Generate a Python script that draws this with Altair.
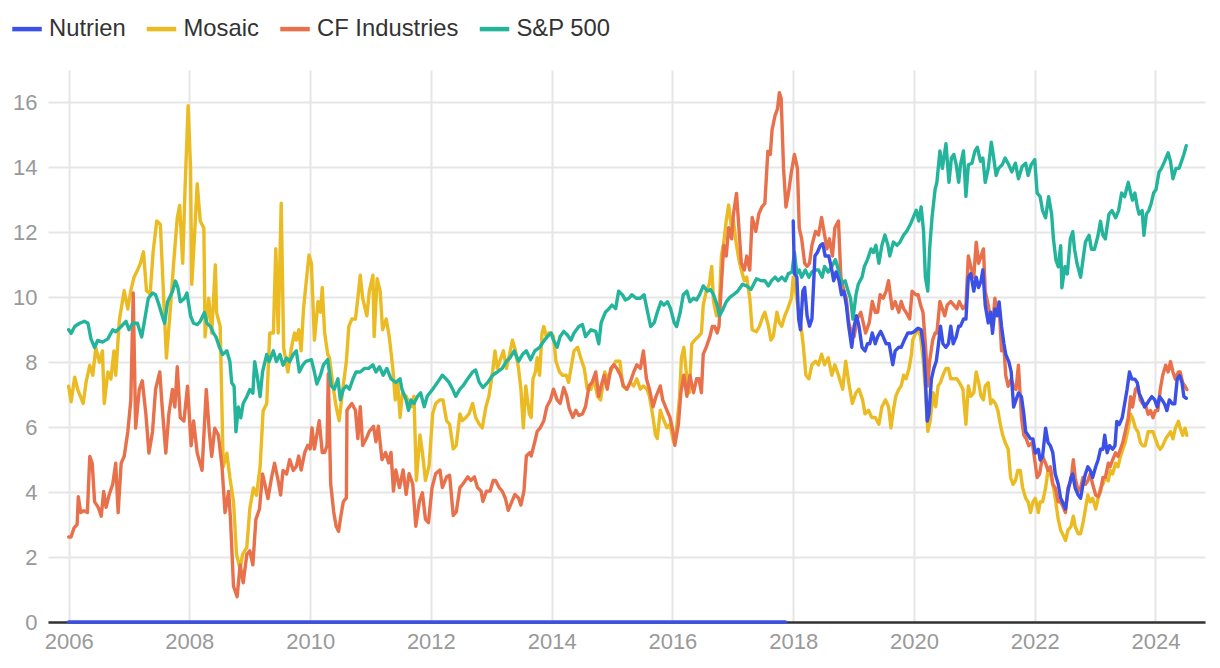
import altair as alt
import pandas as pd
import numpy as np

series_names = ["Nutrien", "Mosaic", "CF Industries", "S&P 500"]
series_colors = ["#3b50e6", "#ebbb23", "#e8704b", "#23b49b"]

# decimal-year positions and values
mosaic_t = [2006.00, 2006.04, 2006.10, 2006.15, 2006.24, 2006.29, 2006.35, 2006.40, 2006.45, 2006.51, 2006.56, 2006.59, 2006.65, 2006.70, 2006.75, 2006.78, 2006.84, 2006.92, 2006.98,
            2007.03, 2007.08, 2007.14, 2007.19, 2007.24, 2007.29, 2007.35, 2007.40, 2007.46, 2007.52, 2007.58, 2007.62, 2007.69, 2007.74, 2007.80, 2007.84, 2007.89, 2007.93, 2007.98,
            2008.02, 2008.04, 2008.08, 2008.13, 2008.18, 2008.24, 2008.26, 2008.32, 2008.37, 2008.43, 2008.45, 2008.51, 2008.56, 2008.62, 2008.67, 2008.73, 2008.78, 2008.84, 2008.88, 2008.95,
            2009.00, 2009.06, 2009.11, 2009.17, 2009.22, 2009.28, 2009.33, 2009.39, 2009.43, 2009.47, 2009.52, 2009.56, 2009.63, 2009.69, 2009.74,
            2009.77, 2009.81, 2009.85, 2009.89, 2009.93, 2009.98, 2010.02, 2010.07, 2010.13, 2010.17, 2010.20, 2010.24, 2010.29, 2010.32, 2010.37, 2010.43, 2010.48, 2010.54, 2010.60, 2010.64, 2010.69, 2010.75, 2010.79, 2010.83, 2010.87, 2010.94, 2010.98,
            2011.04, 2011.06, 2011.11, 2011.16, 2011.20, 2011.26, 2011.31, 2011.37, 2011.41, 2011.45, 2011.49, 2011.53, 2011.59, 2011.67, 2011.72, 2011.76, 2011.82, 2011.86, 2011.91, 2011.97,
            2012.03, 2012.08, 2012.15, 2012.20, 2012.26, 2012.31, 2012.37, 2012.42, 2012.48, 2012.52, 2012.58, 2012.63, 2012.69, 2012.74, 2012.80, 2012.85, 2012.91, 2012.96,
            2013.02, 2013.06, 2013.10, 2013.14, 2013.20, 2013.25, 2013.29, 2013.35, 2013.40, 2013.45, 2013.49, 2013.53, 2013.57, 2013.63,
            2013.66, 2013.69, 2013.73, 2013.76, 2013.80, 2013.84, 2013.87, 2013.91, 2013.95, 2013.99, 2014.03, 2014.07, 2014.13, 2014.18, 2014.24, 2014.28, 2014.33, 2014.37, 2014.43, 2014.48, 2014.54, 2014.59, 2014.65, 2014.70, 2014.76, 2014.81, 2014.88, 2014.93,
            2015.00, 2015.06, 2015.13, 2015.18, 2015.24, 2015.30, 2015.36, 2015.41, 2015.47, 2015.52, 2015.58, 2015.62, 2015.68, 2015.72, 2015.75, 2015.80, 2015.84, 2015.91, 2015.96,
            2016.02, 2016.06, 2016.12, 2016.15, 2016.19, 2016.24, 2016.28, 2016.32, 2016.37, 2016.43, 2016.48, 2016.51, 2016.56, 2016.61, 2016.65, 2016.68, 2016.73, 2016.77, 2016.81, 2016.85, 2016.89, 2016.93, 2016.98,
            2017.01, 2017.06, 2017.10, 2017.14, 2017.19, 2017.23, 2017.28, 2017.32, 2017.39, 2017.44, 2017.50,
            2017.53, 2017.59, 2017.63, 2017.67, 2017.73, 2017.77, 2017.81, 2017.86, 2017.91, 2017.97, 2018.00, 2018.04, 2018.09, 2018.13, 2018.17, 2018.21, 2018.26, 2018.31, 2018.37, 2018.42, 2018.47, 2018.52, 2018.58, 2018.64, 2018.69, 2018.75, 2018.82, 2018.87, 2018.92, 2018.98,
            2019.04, 2019.09, 2019.15, 2019.19, 2019.25, 2019.30, 2019.36, 2019.42, 2019.47, 2019.53, 2019.58, 2019.62, 2019.66, 2019.70, 2019.75, 2019.79, 2019.83, 2019.87, 2019.92, 2019.96, 2019.98,
            2020.03, 2020.07, 2020.11, 2020.15, 2020.19, 2020.23, 2020.27, 2020.32, 2020.36, 2020.40, 2020.44, 2020.48, 2020.53, 2020.57, 2020.61, 2020.66, 2020.71, 2020.75, 2020.81, 2020.86, 2020.90, 2020.94, 2020.99,
            2021.03, 2021.07, 2021.11, 2021.15,
            2021.18, 2021.23, 2021.27, 2021.30, 2021.35, 2021.39, 2021.43, 2021.47, 2021.51, 2021.56, 2021.60, 2021.64, 2021.68, 2021.72, 2021.76, 2021.80, 2021.85, 2021.89, 2021.93, 2021.97,
            2022.01, 2022.06, 2022.09, 2022.13, 2022.18, 2022.22, 2022.26, 2022.30, 2022.34, 2022.39, 2022.43, 2022.46, 2022.51, 2022.55, 2022.60, 2022.64, 2022.67, 2022.72, 2022.76, 2022.80, 2022.84, 2022.88, 2022.92, 2022.96,
            2023.01, 2023.05, 2023.09, 2023.13, 2023.17, 2023.22, 2023.25, 2023.29, 2023.34, 2023.38, 2023.42, 2023.46, 2023.50, 2023.55, 2023.59, 2023.62, 2023.67, 2023.71, 2023.75, 2023.79, 2023.83, 2023.88, 2023.92, 2023.96,
            2024.00, 2024.04, 2024.08, 2024.12, 2024.17, 2024.21, 2024.25, 2024.29, 2024.33, 2024.38, 2024.41, 2024.45, 2024.49, 2024.52]
mosaic_v = [7.26, 6.78, 7.54, 7.16, 6.73, 7.4, 7.9, 7.6, 8.45, 8.0, 8.35, 6.73, 7.7, 7.48, 8.35, 7.6, 9.3, 10.2, 9.64,
            10.2, 10.6, 10.83, 11.05, 11.4, 10.2, 10.1, 11.4, 12.35, 12.24, 9.75, 8.13, 9.75, 11.05, 12.45, 12.83, 11.05, 13.4, 15.9,
            13.97, 10.4, 11.7, 13.5, 12.35, 12.13, 8.78, 9.97, 8.9, 11.0, 9.53, 9.1, 4.78, 5.2, 4.45, 3.7, 2.08, 1.64, 2.08, 2.3,
            3.5, 4.13, 3.9, 4.78, 6.5, 6.73, 8.9, 8.9, 11.5, 8.9, 12.9, 8.45, 7.7, 8.45, 8.9,
            8.68, 9.0, 8.35, 9.65, 10.4, 11.3, 11.05, 8.68, 9.87, 9.54, 10.3, 8.9, 8.25, 8.14, 7.38, 6.63, 6.2, 7.17, 8.03, 9.1, 9.33, 9.33, 9.97, 10.68, 9.97, 9.43, 10.19,
            10.68, 8.79, 10.57, 10.19, 9.0, 9.33, 8.79, 7.81, 6.84, 7.38, 6.3, 7.06, 6.95, 6.63, 6.95, 4.36, 5.76, 5.22, 4.36, 4.8,
            6.41, 6.73, 6.84, 6.84, 6.2, 6.09, 5.33, 5.44, 6.41, 6.2, 6.3, 6.41, 6.73, 6.3, 6.09, 5.98, 6.63, 6.95,
            7.7, 8.35, 7.81, 8.03, 8.35, 7.81, 8.14, 8.68, 8.35, 7.81, 7.17, 5.98, 7.27, 6.41,
            6.3, 7.49, 7.7, 8.14, 7.6, 8.9, 9.1, 8.79, 8.9, 8.9, 8.79, 8.03, 7.7, 7.6, 7.6, 7.38, 7.92, 8.35, 8.46, 8.14, 7.81, 7.17, 7.17, 7.49, 6.95, 6.84, 7.7, 7.49,
            7.81, 8.03, 8.03, 7.27, 7.17, 7.38, 7.27, 7.49, 7.17, 7.27, 7.17, 6.95, 6.3, 5.76, 5.65, 6.52, 6.3, 5.98, 6.09,
            5.55, 5.76, 6.95, 8.14, 8.46, 7.49, 7.06, 8.57, 8.68, 8.79, 8.9, 9.76, 10.19, 10.4, 10.95, 9.87, 9.43, 9.54, 11.27, 11.7, 12.35, 12.84, 12.1,
            12.35, 11.6, 11.16, 10.84, 10.51, 10.62, 9.97, 9.0, 8.94, 9.1, 9.43,
            9.54, 9.11, 8.68, 8.79, 9.54, 9.22, 9.11, 9.43, 9.65, 9.97, 10.62, 10.19, 9.54, 9.11, 8.46, 7.6, 7.49, 7.92, 8.03, 7.92, 8.25, 7.92, 8.14, 7.6, 7.92, 7.6, 7.17, 8.03, 7.38, 6.73,
            7.06, 7.17, 6.84, 6.41, 6.52, 6.3, 6.3, 6.09, 6.63, 6.84, 6.63, 5.98, 6.52, 6.95, 7.17, 7.27, 7.6, 7.49, 7.81, 8.25, 8.68,
            8.9, 9.0, 8.79, 8.14, 7.17, 5.87, 6.2, 7.06, 6.63, 7.27, 7.38, 7.6, 7.81, 7.81, 7.49, 7.49, 7.49, 7.38, 7.17, 6.09, 7.27, 6.95, 7.06,
            7.7, 7.38, 6.95, 6.84,
            7.27, 7.37, 6.72, 6.84, 6.72, 6.51, 6.08, 5.75, 5.53, 5.32, 4.45, 4.24, 4.35, 4.67, 4.67, 4.13, 3.81, 3.7, 3.37, 3.7,
            3.81, 3.37, 3.7, 3.7, 4.13, 4.67, 4.56, 4.24, 3.81, 3.16, 2.83, 2.72, 2.51, 2.83, 2.94, 3.26, 2.94, 2.72, 2.72, 3.05, 3.48, 3.91, 3.7, 3.81,
            3.48, 3.81, 4.13, 4.24, 4.45, 4.35, 4.67, 4.56, 4.89, 4.78, 5.1, 5.32, 5.53, 5.97, 6.4, 6.29, 5.97, 5.86, 5.53, 5.43, 5.43, 5.86, 5.86, 5.86,
            5.64, 5.43, 5.32, 5.43, 5.64, 5.75, 5.86, 5.64, 5.97, 6.18, 5.97, 5.75, 5.97, 5.75]

cf_t = [2006.00, 2006.04, 2006.09, 2006.14, 2006.16, 2006.20, 2006.25, 2006.31, 2006.35, 2006.39, 2006.43, 2006.49, 2006.54, 2006.58, 2006.62, 2006.67, 2006.73, 2006.78, 2006.82, 2006.87, 2006.92, 2006.98,
        2007.03, 2007.07, 2007.11, 2007.17, 2007.22, 2007.28, 2007.33, 2007.39, 2007.44, 2007.51, 2007.55, 2007.61, 2007.66, 2007.72, 2007.76, 2007.80, 2007.85, 2007.91, 2007.97,
        2008.03, 2008.07, 2008.13, 2008.21, 2008.28, 2008.33, 2008.37, 2008.42, 2008.48, 2008.54, 2008.59, 2008.65, 2008.68, 2008.73, 2008.79, 2008.84, 2008.89, 2008.95,
        2009.00, 2009.05, 2009.10, 2009.16, 2009.21, 2009.25, 2009.30, 2009.36, 2009.41, 2009.47, 2009.51, 2009.55, 2009.61, 2009.66, 2009.72,
        2009.77, 2009.81, 2009.85, 2009.91, 2009.96, 2010.00, 2010.03, 2010.07, 2010.11, 2010.15, 2010.20, 2010.24, 2010.28, 2010.30, 2010.34, 2010.39, 2010.43, 2010.47, 2010.51, 2010.55, 2010.60, 2010.61, 2010.65, 2010.69, 2010.75, 2010.79, 2010.83, 2010.87, 2010.93, 2010.98,
        2011.05, 2011.09, 2011.13, 2011.19, 2011.25, 2011.30, 2011.34, 2011.38, 2011.42, 2011.48, 2011.54, 2011.59, 2011.64, 2011.70, 2011.75, 2011.81, 2011.86, 2011.91, 2011.96,
        2012.02, 2012.08, 2012.15, 2012.19, 2012.26, 2012.31, 2012.37, 2012.42, 2012.48, 2012.53, 2012.61, 2012.66, 2012.72, 2012.77, 2012.83, 2012.86, 2012.92, 2012.98,
        2013.03, 2013.07, 2013.13, 2013.18, 2013.23, 2013.28, 2013.34, 2013.39, 2013.45, 2013.49, 2013.54, 2013.58, 2013.64,
        2013.66, 2013.72, 2013.76, 2013.81, 2013.87, 2013.92, 2013.98, 2014.03, 2014.09, 2014.14, 2014.20, 2014.25, 2014.29, 2014.35, 2014.40, 2014.45, 2014.51, 2014.56, 2014.62, 2014.67, 2014.73, 2014.78, 2014.82, 2014.87, 2014.92, 2014.98,
        2015.03, 2015.08, 2015.14, 2015.19, 2015.25, 2015.30, 2015.36, 2015.41, 2015.47, 2015.52, 2015.57, 2015.62, 2015.68, 2015.73, 2015.80, 2015.84, 2015.91, 2015.96,
        2016.01, 2016.04, 2016.10, 2016.14, 2016.19, 2016.24, 2016.29, 2016.35, 2016.40, 2016.44, 2016.48, 2016.51, 2016.56, 2016.62, 2016.66, 2016.70, 2016.74, 2016.77, 2016.81, 2016.85, 2016.89, 2016.93, 2016.98,
        2017.01, 2017.06, 2017.10, 2017.14, 2017.19, 2017.23, 2017.28, 2017.32, 2017.38, 2017.43, 2017.48,
        2017.53, 2017.58, 2017.62, 2017.65, 2017.70, 2017.74, 2017.77, 2017.80, 2017.84, 2017.88, 2017.92, 2017.97, 2018.02, 2018.07, 2018.10, 2018.14, 2018.19, 2018.23, 2018.27, 2018.31, 2018.37, 2018.42, 2018.47, 2018.52, 2018.56, 2018.60, 2018.65, 2018.69, 2018.75, 2018.79, 2018.84, 2018.88, 2018.92, 2018.97,
        2019.01, 2019.06, 2019.12, 2019.16, 2019.20, 2019.26, 2019.31, 2019.36, 2019.40, 2019.44, 2019.49, 2019.54, 2019.58, 2019.64, 2019.69, 2019.75, 2019.79, 2019.83, 2019.87, 2019.93, 2019.97,
        2020.03, 2020.07, 2020.11, 2020.15, 2020.19, 2020.23, 2020.26, 2020.31, 2020.35, 2020.38, 2020.43, 2020.47, 2020.51, 2020.55, 2020.61, 2020.66, 2020.71, 2020.75, 2020.81, 2020.86, 2020.90, 2020.94, 2020.99,
        2021.03, 2021.07, 2021.11, 2021.15,
        2021.18, 2021.23, 2021.27, 2021.30, 2021.34, 2021.38, 2021.41, 2021.45, 2021.49, 2021.52, 2021.56, 2021.61, 2021.65, 2021.69, 2021.73, 2021.78, 2021.82, 2021.86, 2021.90, 2021.96,
        2022.00, 2022.04, 2022.08, 2022.13, 2022.18, 2022.22, 2022.26, 2022.30, 2022.34, 2022.39, 2022.43, 2022.46, 2022.51, 2022.55, 2022.60, 2022.64, 2022.67, 2022.72, 2022.76, 2022.80, 2022.84, 2022.88, 2022.92, 2022.96,
        2023.01, 2023.05, 2023.09, 2023.13, 2023.17, 2023.22, 2023.25, 2023.29, 2023.34, 2023.38, 2023.42, 2023.46, 2023.50, 2023.55, 2023.59, 2023.62, 2023.67, 2023.71, 2023.75, 2023.79, 2023.83, 2023.88, 2023.92, 2023.96,
        2024.00, 2024.04, 2024.08, 2024.12, 2024.17, 2024.21, 2024.25, 2024.29, 2024.33, 2024.38, 2024.41, 2024.45, 2024.49, 2024.52]
cf_v = [2.62, 2.62, 2.9, 3.0, 3.86, 3.37, 3.43, 3.37, 5.1, 4.89, 3.7, 3.53, 3.26, 4.02, 3.53, 3.91, 4.24, 4.89, 3.37, 4.89, 5.1, 5.86,
        6.83, 10.13, 5.97, 7.16, 7.43, 6.4, 5.2, 5.86, 7.16, 7.7, 6.62, 5.2, 6.4, 7.16, 6.62, 7.86, 6.29, 6.19, 7.26,
        5.43, 6.19, 5.2, 4.67, 7.16, 5.86, 5.1, 5.97, 5.75, 4.78, 3.37, 4.02, 3.16, 1.1, 0.78, 1.76, 1.21, 2.08,
        2.19, 1.76, 3.16, 3.48, 4.56, 4.24, 3.8, 4.45, 4.89, 4.35, 3.91, 4.67, 4.56, 5.0, 4.67,
        4.79, 5.11, 4.68, 5.22, 5.44, 5.33, 5.98, 5.33, 5.76, 6.2, 5.22, 5.22, 5.44, 7.65, 4.25, 3.39, 2.95, 2.79, 3.28, 3.71, 3.82, 6.52, 6.63, 6.73, 6.52, 5.65, 6.63, 5.44, 5.65, 5.87,
        6.03, 5.55, 6.03, 5.0, 5.22, 4.9, 5.22, 4.03, 4.68, 4.14, 4.68, 3.93, 4.57, 4.25, 2.95, 3.71, 3.98, 3.17, 3.06,
        4.14, 4.57, 4.68, 4.14, 4.47, 4.52, 3.28, 3.39, 4.14, 4.25, 4.47, 4.36, 4.47, 4.14, 4.03, 3.71, 4.03, 4.03,
        4.36, 4.36, 4.14, 4.03, 3.82, 3.44, 3.71, 3.93, 3.82, 3.6, 4.03, 5.11, 5.22,
        5.11, 5.55, 5.87, 5.98, 6.2, 6.63, 6.84, 7.17, 6.84, 6.73, 7.22, 6.95, 6.57, 6.3, 6.52, 6.36, 6.41, 6.63, 7.27, 7.38, 7.7, 6.95, 7.27, 7.6, 7.17, 7.81,
        7.92, 7.81, 7.6, 7.27, 7.17, 7.38, 7.7, 7.92, 7.81, 8.35, 7.49, 7.17, 6.63, 6.95, 7.27, 6.84, 6.52, 6.3,
        5.87, 5.44, 6.09, 7.06, 7.6, 6.95, 7.6, 7.06, 7.49, 7.49, 7.06, 8.25, 8.46, 8.79, 9.1, 9.1, 8.9, 9.1, 10.4, 11.6, 11.27, 12.14, 11.8,
        12.57, 13.2, 12.14, 11.05, 10.84, 11.27, 10.84, 12.46, 12.03, 12.57, 12.78,
        12.89, 14.5, 14.4, 15.16, 15.6, 15.8, 16.3, 16.13, 13.97, 12.78, 13.2, 13.86, 14.4, 13.97, 12.14, 11.8, 11.05, 10.95, 11.05, 11.6, 12.03, 11.92, 12.46, 11.92, 11.49, 11.8, 11.27, 12.14, 12.35, 10.62, 10.19, 9.97, 9.22, 8.9,
        8.79, 9.33, 9.54, 9.22, 8.9, 9.22, 9.87, 9.54, 9.54, 10.08, 9.97, 10.19, 10.51, 9.65, 9.87, 9.54, 9.87, 9.65, 9.54, 9.33, 10.19,
        10.08, 10.08, 9.76, 9.54, 8.57, 7.27, 8.03, 8.68, 8.9, 8.9, 9.87, 9.65, 9.43, 9.76, 9.87, 9.76, 9.65, 9.87, 9.65, 9.76, 11.27, 10.95, 10.62,
        11.7, 11.05, 11.27, 11.49,
        10.18, 9.75, 9.32, 9.1, 9.97, 9.54, 9.75, 8.35, 8.45, 7.59, 7.26, 7.48, 7.26, 7.16, 7.91, 6.29, 5.75, 5.64, 5.43, 5.53,
        4.99, 4.45, 4.56, 5.1, 4.89, 4.67, 4.78, 4.24, 4.13, 3.7, 3.7, 3.59, 3.37, 4.13, 4.35, 5.0, 4.45, 4.02, 4.13, 4.45, 4.24, 4.35, 4.56, 4.24,
        3.91, 3.86, 4.02, 4.45, 4.45, 4.89, 4.78, 4.99, 5.21, 5.1, 5.32, 5.53, 5.86, 6.29, 6.94, 6.62, 7.16, 7.26, 6.84, 6.72, 6.72, 6.4, 6.51, 6.29,
        6.51, 6.51, 7.16, 7.59, 7.91, 7.7, 8.02, 7.7, 7.48, 7.7, 7.7, 7.37, 7.26, 7.16]

sp_t = [2006.00, 2006.04, 2006.10, 2006.18, 2006.26, 2006.32, 2006.37, 2006.43, 2006.48, 2006.56, 2006.65, 2006.73, 2006.78, 2006.87, 2006.95,
        2007.00, 2007.06, 2007.14, 2007.21, 2007.25, 2007.32, 2007.39, 2007.44, 2007.50, 2007.55, 2007.59, 2007.64, 2007.72, 2007.77, 2007.81, 2007.85, 2007.92, 2007.96,
        2008.02, 2008.07, 2008.13, 2008.18, 2008.25, 2008.29, 2008.35, 2008.40, 2008.44, 2008.50, 2008.55, 2008.62, 2008.67, 2008.70, 2008.74, 2008.77, 2008.81, 2008.85, 2008.89, 2008.95,
        2009.00, 2009.05, 2009.08, 2009.12, 2009.17, 2009.21, 2009.28, 2009.32, 2009.39, 2009.44, 2009.50, 2009.55, 2009.61, 2009.66, 2009.72,
        2009.77, 2009.82, 2009.88, 2009.93, 2010.02, 2010.07, 2010.11, 2010.17, 2010.22, 2010.29, 2010.35, 2010.40, 2010.46, 2010.50, 2010.55, 2010.60, 2010.65, 2010.71, 2010.76, 2010.83, 2010.90, 2010.97,
        2011.04, 2011.09, 2011.15, 2011.21, 2011.27, 2011.34, 2011.42, 2011.49, 2011.52, 2011.59, 2011.63, 2011.67, 2011.72, 2011.78, 2011.83, 2011.89, 2011.94,
        2012.03, 2012.11, 2012.19, 2012.25, 2012.30, 2012.36, 2012.41, 2012.48, 2012.53, 2012.61, 2012.69, 2012.74, 2012.80, 2012.86, 2012.94,
        2013.02, 2013.10, 2013.18, 2013.25, 2013.31, 2013.38, 2013.45, 2013.52, 2013.58, 2013.65,
        2013.72, 2013.80, 2013.88, 2013.93, 2013.99, 2014.03, 2014.09, 2014.14, 2014.20, 2014.26, 2014.32, 2014.37, 2014.45, 2014.51, 2014.56, 2014.65, 2014.73, 2014.78, 2014.82, 2014.89, 2014.95,
        2015.00, 2015.06, 2015.11, 2015.17, 2015.22, 2015.28, 2015.33, 2015.40, 2015.47, 2015.53, 2015.59, 2015.64, 2015.70, 2015.75, 2015.81, 2015.86, 2015.92, 2015.97,
        2016.03, 2016.07, 2016.13, 2016.18, 2016.24, 2016.29, 2016.35, 2016.40, 2016.45, 2016.51, 2016.58, 2016.63, 2016.68, 2016.74, 2016.78, 2016.84, 2016.89, 2016.95,
        2017.01, 2017.08, 2017.16, 2017.23, 2017.30, 2017.39, 2017.47,
        2017.53, 2017.59, 2017.64, 2017.70, 2017.75, 2017.81, 2017.87, 2017.92, 2017.98, 2018.02, 2018.06, 2018.10, 2018.14, 2018.20, 2018.26, 2018.31, 2018.37, 2018.42, 2018.48, 2018.52, 2018.58, 2018.64, 2018.70, 2018.75, 2018.80, 2018.86, 2018.91, 2018.95, 2018.99,
        2019.04, 2019.08, 2019.14, 2019.18, 2019.23, 2019.29, 2019.33, 2019.37, 2019.42, 2019.47, 2019.52, 2019.57, 2019.60, 2019.66, 2019.72, 2019.77, 2019.83, 2019.88, 2019.94, 2019.99,
        2020.04, 2020.08, 2020.12, 2020.16, 2020.19, 2020.23, 2020.26, 2020.30, 2020.35, 2020.38, 2020.43, 2020.47, 2020.53, 2020.58, 2020.62, 2020.66, 2020.70, 2020.74, 2020.77, 2020.82, 2020.86, 2020.90, 2020.96,
        2021.01, 2021.05, 2021.10, 2021.14,
        2021.18, 2021.23, 2021.28, 2021.32, 2021.36, 2021.40, 2021.46, 2021.51, 2021.57, 2021.62, 2021.68, 2021.73, 2021.79, 2021.85, 2021.89, 2021.94,
        2022.00, 2022.04, 2022.09, 2022.13, 2022.18, 2022.23, 2022.28, 2022.31, 2022.35, 2022.39, 2022.43, 2022.45, 2022.50, 2022.54, 2022.59, 2022.63, 2022.66, 2022.70, 2022.76, 2022.80, 2022.84, 2022.90, 2022.94, 2022.99,
        2023.05, 2023.09, 2023.13, 2023.17, 2023.23, 2023.28, 2023.34, 2023.39, 2023.44, 2023.49, 2023.55, 2023.59, 2023.62, 2023.66, 2023.70, 2023.73, 2023.78, 2023.81, 2023.85, 2023.89, 2023.93, 2023.97,
        2024.01, 2024.06, 2024.10, 2024.15, 2024.21, 2024.25, 2024.29, 2024.34, 2024.39, 2024.43, 2024.47, 2024.51]
sp_v = [9.0, 8.89, 9.1, 9.2, 9.26, 9.2, 8.72, 8.45, 8.67, 8.62, 8.72, 9.0, 8.94, 9.1, 9.26,
        9.0, 9.2, 9.2, 8.78, 9.2, 9.97, 10.13, 10.08, 9.75, 9.43, 9.2, 9.86, 10.18, 10.5, 10.3, 9.86, 9.97, 10.13,
        9.43, 9.2, 9.16, 9.26, 9.53, 9.2, 9.1, 8.89, 8.78, 8.45, 8.24, 8.35, 8.02, 7.37, 7.26, 5.86, 6.62, 6.29, 6.73, 6.94,
        7.16, 7.05, 8.02, 7.6, 6.94, 7.7, 8.24, 8.02, 8.35, 8.02, 8.24, 7.91, 8.13, 8.02, 8.24,
        8.35, 7.7, 7.92, 8.03, 8.08, 7.7, 7.33, 7.6, 7.92, 8.08, 7.27, 7.17, 7.49, 6.84, 7.17, 7.27, 7.17, 7.49, 7.7, 7.7, 7.81, 7.81,
        7.92, 7.7, 7.86, 7.6, 7.81, 7.49, 7.38, 7.49, 7.17, 6.84, 6.52, 6.84, 6.73, 6.95, 7.06, 6.63, 6.95,
        7.17, 7.38, 7.6, 7.49, 7.38, 7.17, 6.95, 7.17, 7.27, 7.49, 7.7, 7.76, 7.38, 7.22, 7.38,
        7.6, 7.7, 7.81, 8.03, 8.14, 8.35, 8.03, 8.25, 8.35, 8.08,
        8.35, 8.46, 8.68, 8.79, 8.9, 8.68, 8.46, 8.79, 8.95, 8.84, 8.68, 8.9, 9.1, 9.16, 8.79, 9.0, 8.95, 8.57, 9.22, 9.54, 9.65,
        9.76, 9.65, 10.19, 10.08, 9.92, 9.97, 10.08, 9.97, 9.97, 10.08, 9.54, 9.1, 9.22, 9.54, 9.86, 9.76, 9.86, 9.65,
        9.22, 9.1, 9.54, 10.08, 10.19, 9.86, 9.97, 9.92, 10.08, 10.35, 10.19, 10.24, 10.08, 9.76, 9.43, 9.65, 9.86, 10.0,
        10.08, 10.19, 10.4, 10.35, 10.24, 10.57, 10.51,
        10.51, 10.35, 10.51, 10.62, 10.51, 10.62, 10.51, 10.73, 10.78, 11.38, 10.73, 10.84, 10.62, 10.84, 10.62, 10.78, 10.84, 10.84, 10.62, 10.95, 10.78, 10.95, 11.16, 10.84, 10.41, 10.51, 10.19, 9.97, 9.33,
        10.08, 10.41, 10.62, 10.95, 11.16, 11.49, 11.38, 11.6, 11.05, 11.6, 11.92, 11.6, 11.27, 11.7, 11.6, 11.7, 11.92, 12.03, 12.24, 12.46,
        12.68, 12.35, 12.78, 12.03, 10.62, 10.19, 11.49, 12.46, 13.32, 13.54, 14.51, 13.97, 14.73, 13.54, 14.29, 14.4, 14.08, 13.54, 14.08, 14.51, 13.11, 14.08, 14.13,
        14.51, 14.62, 14.19, 14.29,
        13.54, 13.97, 14.78, 14.29, 13.75, 13.97, 14.08, 14.29, 14.08, 13.86, 14.13, 13.65, 14.02, 14.13, 13.75, 14.08,
        14.24, 13.21, 13.1, 12.67, 12.45, 13.1, 12.56, 11.8, 11.16, 10.94, 11.59, 10.29, 10.94, 10.72, 11.8, 12.02, 11.48, 11.05, 10.62, 11.16, 11.7, 11.91, 11.48, 11.48,
        11.91, 12.34, 11.91, 11.8, 12.56, 12.67, 12.45, 12.67, 13.21, 13.1, 13.54, 13.21, 12.99, 13.21, 12.78, 12.56, 12.67, 11.91, 12.56, 12.67, 12.89, 13.21,
        13.32, 13.86, 13.97, 14.18, 14.45, 14.18, 13.65, 13.97, 13.97, 14.18, 14.4, 14.67]

# Nutrien: flat zero placeholder until late 2017, then real values from 2018
nutrien_zero_t = [2006.00, 2017.87]
nutrien_zero_v = [0.0, 0.0]
nutrien_t = [2018.00, 2018.02, 2018.06, 2018.09, 2018.12, 2018.16, 2018.19, 2018.23, 2018.27, 2018.31, 2018.36, 2018.40, 2018.45, 2018.49, 2018.53, 2018.59, 2018.64, 2018.67, 2018.71, 2018.76, 2018.80, 2018.84, 2018.88, 2018.92, 2018.97,
             2019.01, 2019.05, 2019.09, 2019.14, 2019.19, 2019.23, 2019.27, 2019.31, 2019.36, 2019.40, 2019.45, 2019.49, 2019.54, 2019.59, 2019.65, 2019.69, 2019.75, 2019.79, 2019.84, 2019.90, 2019.96,
             2020.01, 2020.07, 2020.12, 2020.16, 2020.19, 2020.22, 2020.25, 2020.29, 2020.33, 2020.37, 2020.40, 2020.44, 2020.48, 2020.53, 2020.57, 2020.61, 2020.65, 2020.70, 2020.74, 2020.77, 2020.82, 2020.86, 2020.90, 2020.94, 2020.99,
             2021.03, 2021.07, 2021.11, 2021.14,
             2021.18, 2021.23, 2021.27, 2021.30, 2021.34, 2021.38, 2021.41, 2021.45, 2021.49, 2021.52, 2021.57, 2021.61, 2021.65, 2021.69, 2021.73, 2021.78, 2021.82, 2021.85, 2021.89, 2021.93, 2021.97,
             2022.01, 2022.06, 2022.09, 2022.13, 2022.18, 2022.22, 2022.26, 2022.30, 2022.34, 2022.39, 2022.43, 2022.46, 2022.51, 2022.55, 2022.60, 2022.63, 2022.67, 2022.72, 2022.76, 2022.80, 2022.84, 2022.88, 2022.92, 2022.96,
             2023.01, 2023.05, 2023.09, 2023.13, 2023.16, 2023.20, 2023.24, 2023.29, 2023.33, 2023.36, 2023.40, 2023.45, 2023.49, 2023.53, 2023.57, 2023.61, 2023.66, 2023.70, 2023.73, 2023.78, 2023.82, 2023.86, 2023.90, 2023.94, 2023.99,
             2024.03, 2024.07, 2024.11, 2024.15, 2024.19, 2024.23, 2024.28, 2024.32, 2024.36, 2024.40, 2024.44, 2024.47, 2024.51]
nutrien_v = [12.35, 10.73, 10.62, 9.33, 9.0, 10.19, 10.3, 9.43, 9.11, 9.33, 11.27, 11.38, 11.6, 11.65, 11.27, 11.27, 10.84, 10.51, 10.78, 10.51, 10.08, 10.19, 9.76, 9.11, 8.46,
             9.11, 9.43, 9.11, 8.46, 8.35, 8.57, 8.57, 8.9, 8.57, 8.79, 8.95, 8.79, 8.57, 8.57, 7.92, 8.35, 8.46, 8.46, 8.68, 8.9, 8.9,
             8.95, 9.05, 9.0, 8.46, 7.49, 6.19, 6.41, 7.49, 7.81, 8.03, 8.46, 9.11, 8.57, 8.46, 8.57, 9.11, 8.57, 8.79, 9.11, 9.11, 9.33, 9.33, 10.62, 10.73, 10.19,
             10.62, 10.3, 10.51, 10.84,
             9.75, 9.21, 9.54, 8.89, 9.64, 9.43, 9.86, 9.1, 8.56, 8.24, 8.02, 7.7, 6.62, 6.84, 7.05, 6.94, 6.4, 5.86, 5.75, 5.64, 5.64,
             5.2, 5.32, 4.99, 5.1, 5.97, 5.53, 5.43, 5.21, 4.56, 4.24, 3.81, 3.7, 3.48, 4.02, 4.45, 4.56, 4.13, 3.91, 3.81, 4.24, 4.56, 4.78, 4.67, 4.45,
             4.78, 4.99, 5.32, 5.32, 5.75, 5.21, 5.43, 5.32, 5.43, 6.18, 6.08, 6.29, 6.72, 7.16, 7.7, 7.48, 7.48, 7.37, 7.05, 6.84, 6.62, 6.72, 6.84, 6.94, 6.84,
             6.62, 6.94, 6.84, 6.72, 6.51, 6.84, 6.72, 6.72, 7.48, 7.59, 7.37, 6.94, 6.89]


def to_stamp(y):
    yr = int(np.floor(y))
    start = pd.Timestamp(year=yr, month=1, day=1)
    end = pd.Timestamp(year=yr + 1, month=1, day=1)
    return (start + (end - start) * (y - yr)).strftime("%Y-%m-%dT%H:%M:%S")


def frame(name, seg, ts, vs):
    return pd.DataFrame({"date": [to_stamp(t) for t in ts], "value": vs,
                         "series": name, "segment": seg})


df = pd.concat([
    frame("Mosaic", "a", mosaic_t, mosaic_v),
    frame("CF Industries", "a", cf_t, cf_v),
    frame("S&P 500", "a", sp_t, sp_v),
    frame("Nutrien", "zero", nutrien_zero_t, nutrien_zero_v),
    frame("Nutrien", "a", nutrien_t, nutrien_v),
], ignore_index=True)

x_enc = alt.X("date:T",
              scale=alt.Scale(domain=[alt.DateTime(year=2005, month=8, date=29),
                                      alt.DateTime(year=2024, month=10, date=27)]),
              axis=alt.Axis(title=None, format="%Y", tickCount={"interval": "year", "step": 2},
                            grid=True, gridColor="#e6e6e6", gridWidth=2,
                            ticks=False, domain=True, domainColor="#333333", domainWidth=2.5,
                            labelColor="#999999", labelFontSize=22, labelPadding=9,
                            labelFont="Liberation Sans"))
y_enc = alt.Y("value:Q",
              scale=alt.Scale(domain=[0, 17], nice=False, zero=True),
              axis=alt.Axis(title=None, values=list(range(0, 17, 2)),
                            grid=True, gridColor="#e6e6e6", gridWidth=2,
                            ticks=False, domain=False,
                            labelColor="#999999", labelFontSize=22, labelPadding=11,
                            labelFont="Liberation Sans"))
color_enc = alt.Color("series:N",
                      scale=alt.Scale(domain=series_names, range=series_colors),
                      sort=series_names,
                      legend=alt.Legend(title=None, orient="none", direction="horizontal",
                                        legendX=-38, legendY=-58,
                                        symbolType="stroke", symbolStrokeWidth=4.5, symbolSize=870,
                                        labelFontSize=23.8, labelColor="#333333", labelFont="Liberation Sans",
                                        labelOffset=5, columnPadding=11.5))

layers = []
for s in ["Mosaic", "CF Industries", "S&P 500", "Nutrien"]:
    layers.append(
        alt.Chart(df).transform_filter(alt.datum.series == s)
        .mark_line(strokeWidth=3.4, strokeJoin="round", strokeCap="round")
        .encode(x=x_enc, y=y_enc, color=color_enc, detail="segment:N")
    )

chart = alt.layer(*layers).properties(
    width=1157, height=552,
    padding={"left": 48, "top": 70, "right": 15, "bottom": 46},
    autosize=alt.AutoSizeParams(type="none"),
    background="white",
).configure_view(stroke=None)

chart.save("out.html", embed_options={"renderer": "svg", "actions": False})
